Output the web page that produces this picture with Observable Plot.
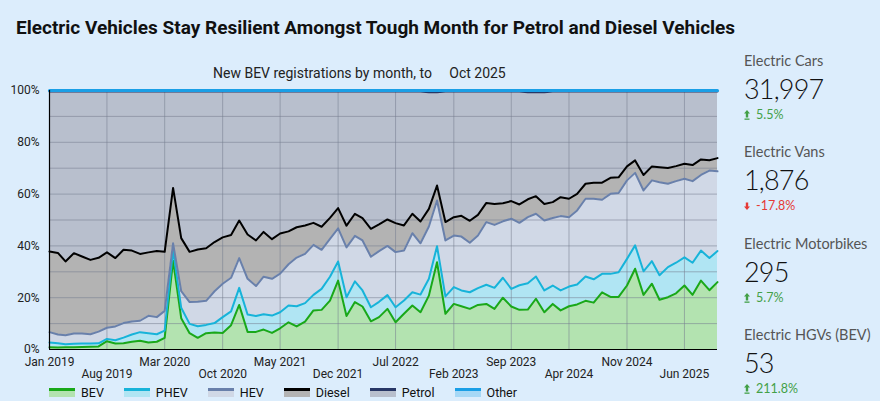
<!DOCTYPE html>
<html><head><meta charset="utf-8">
<script src="https://cdn.jsdelivr.net/npm/d3@7"></script>
<script src="https://cdn.jsdelivr.net/npm/@observablehq/plot@0.6"></script>
<style>
body{margin:0;width:880px;height:401px;background:#dcedfc;font-family:Roboto,sans-serif;position:relative;overflow:hidden}
#title{position:absolute;left:16px;top:16px;font-weight:700;font-size:19px;color:#111;white-space:nowrap}
#sub{position:absolute;left:213px;top:65px;font-size:14px;color:#222;white-space:pre}
#chart{position:absolute;left:0;top:80px}
#legend{position:absolute;left:49px;top:385px;display:flex;align-items:center;font-size:12.5px;color:#111}
.li{display:flex;align-items:center;margin-right:20px}
.sw{width:26px;height:6px;margin-right:6px;box-sizing:content-box}
#panel{position:absolute;left:744px;top:0;width:136px;font-family:Lato,sans-serif}
.blk{position:absolute;left:0;white-space:nowrap}
.lab{font-size:14.5px;color:#555;line-height:16px}
.num{font-size:27px;font-weight:300;color:#111;line-height:28px;margin-top:6px;letter-spacing:-0.8px}
.chg{font-size:12.5px;line-height:14px;margin-top:5px;display:flex;align-items:center}
.chg svg{margin-right:6px}
</style></head>
<body>
<div id="title">Electric Vehicles Stay Resilient Amongst Tough Month for Petrol and Diesel Vehicles</div>
<div id="sub">New BEV registrations by month, to     Oct 2025</div>
<div id="chart"></div>
<div id="legend"></div>
<div id="panel"></div>
<script>
const fuels = ["BEV","PHEV","HEV","Diesel","Petrol","Other"];
const fillColors = ["#b3e3b0","#b0e5f3","#d0d8e6","#b3b3b3","#b8bfcd","#a6d8f6"];
const lineColors = ["#19a819","#17b3d9","#6980ab","#000000","#283766","#1a9fe6"];

// monthly market share (%) from Jan 2019 to Oct 2025
const bev = [0.9,0.8,0.9,0.9,1.0,1.1,1.2,3.2,2.3,2.4,3.0,3.4,2.7,3.0,4.5,34.3,12.1,6.3,4.5,6.3,
6.6,6.4,9.4,17.2,6.8,6.8,7.7,6.4,8.2,10.5,8.9,10.8,15.1,15.3,18.9,26.6,12.9,18.3,16.6,10.9,
12.5,15.7,10.5,13.8,17.0,14.4,20.8,33.7,13.8,17.6,16.7,15.7,17.2,17.6,15.7,20.0,16.6,15.3,15.4,19.6,
14.4,17.6,15.1,16.7,17.4,18.8,18.1,22.1,20.3,20.3,24.7,31.2,21.1,25.4,19.2,20.2,21.7,24.7,21.1,26.6,
22.9,26.0];
const phev = [1.8,1.6,1.1,1.3,1.3,1.2,1.2,0.9,1.3,2.2,2.8,3.3,3.6,2.9,2.8,4.2,4.0,3.6,4.5,3.2,
3.6,6.1,5.3,6.6,6.7,6.1,5.9,6.7,6.2,6.5,7.8,7.1,6.0,8.1,9.2,7.4,7.3,8.0,6.2,5.4,
5.9,5.3,5.8,5.1,5.1,6.8,6.5,6.2,6.7,6.5,6.1,6.4,6.5,7.4,8.1,7.7,6.8,9.5,10.2,8.6,
8.4,7.1,7.7,7.6,7.7,9.4,9.0,7.1,8.9,9.5,10.3,9.0,9.1,8.7,9.5,11.6,11.8,10.9,12.4,11.6,
12.4,12.0];
const hev = [4.0,3.4,3.5,4.0,3.9,3.6,4.5,4.3,5.3,5.6,5.0,4.4,6.7,6.6,7.6,2.5,6.4,8.4,9.4,9.3,
12.3,12.9,13.0,11.5,13.8,11.6,14.5,14.2,14.9,15.9,18.8,19.0,19.3,15.1,14.6,12.8,19.2,17.6,19.3,19.5,
19.6,19.0,21.3,19.3,22.8,19.8,20.2,17.6,21.6,19.9,20.8,19.1,20.3,24.2,24.3,21.8,27.1,24.1,25.5,24.2,
27.0,26.1,28.7,26.8,28.6,30.0,31.1,28.6,30.9,30.6,30.3,28.0,31.2,31.2,35.9,32.2,31.5,30.3,31.5,29.2,
33.8,30.8];
const diesel = [31.1,31.5,28.5,31.0,29.7,28.7,28.5,29.1,26.4,28.3,27.4,25.8,24.5,25.5,22.8,21.4,20.5,19.4,20.2,20.3,
19.0,17.9,16.5,14.5,17.1,17.6,17.3,15.3,15.5,12.7,11.7,11.0,8.5,8.9,8.1,7.8,8.4,8.5,8.6,10.8,
10.3,10.2,11.2,9.7,7.5,8.4,6.8,5.8,7.1,7.1,8.0,8.5,8.0,7.4,8.1,7.0,6.8,7.1,6.9,6.8,
6.4,6.1,7.3,7.1,6.4,5.8,6.2,6.6,6.2,6.1,5.4,4.8,6.0,5.4,5.8,6.1,5.8,5.8,6.2,6.0,
4.0,5.1];
const petrol = [61.8,62.3,65.6,62.4,63.7,65.0,64.2,62.1,64.3,61.1,61.4,62.7,62.1,61.6,61.9,37.2,56.6,61.9,61.0,60.5,
58.1,56.3,55.4,49.8,55.2,57.5,54.2,57.0,54.8,54.0,52.4,51.7,50.7,52.2,48.8,45.0,51.8,47.2,48.9,53.0,
51.3,49.4,50.8,51.7,47.2,50.2,45.0,36.0,50.4,48.5,48.0,49.9,47.6,43.0,43.4,43.1,42.3,43.6,41.3,40.1,
43.1,42.7,40.8,41.4,39.5,35.6,35.2,35.2,33.3,33.1,28.9,26.6,32.2,28.9,29.2,29.5,28.8,27.9,28.4,26.2,
26.5,25.7];
const other = [0.4,0.4,0.4,0.4,0.4,0.4,0.4,0.4,0.4,0.4,0.4,0.4,0.4,0.4,0.4,0.4,0.4,0.4,0.4,0.4,
0.4,0.4,0.4,0.4,0.4,0.4,0.4,0.4,0.4,0.4,0.4,0.4,0.4,0.4,0.4,0.4,0.4,0.4,0.4,0.4,
0.4,0.4,0.4,0.4,0.4,0.4,0.7,0.7,0.4,0.4,0.4,0.4,0.4,0.4,0.4,0.4,0.4,0.4,0.7,0.7,
0.7,0.4,0.4,0.4,0.4,0.4,0.4,0.4,0.4,0.4,0.4,0.4,0.4,0.4,0.4,0.4,0.4,0.4,0.4,0.4,
0.4,0.4];

const tickLabels = ["Jan 2019","Aug 2019","Mar 2020","Oct 2020","May 2021","Dec 2021",
  "Jul 2022","Feb 2023","Sep 2023","Apr 2024","Nov 2024","Jun 2025"];
const yTicks = [0,20,40,60,80,100];
const yGrid = [10,20,30,40,50,60,70,80,90];

const kpiLabels = ["Electric Cars","Electric Vans","Electric Motorbikes","Electric HGVs (BEV)"];
const kpiValues = ["31,997","1,876","295","53"];
const kpiChanges = [5.5,-17.8,5.7,211.8];

const series = {BEV:bev, PHEV:phev, HEV:hev, Diesel:diesel, Petrol:petrol, Other:other};
const months = bev.map((_, i) => new Date(Date.UTC(2019, i, 1)));
const data = fuels.flatMap(f => series[f].map((v, i) => ({date: months[i], fuel: f, share: v})));
const fillMap = Object.fromEntries(fuels.map((f, i) => [f, fillColors[i]]));
const lineMap = Object.fromEntries(fuels.map((f, i) => [f, lineColors[i]]));
const parse = d3.utcParse("%b %Y");
const tickDates = tickLabels.map(parse);
const row1 = tickDates.filter((_, i) => i % 2 === 0);
const row2 = tickDates.filter((_, i) => i % 2 === 1);
const fmt = d3.utcFormat("%b %Y");

const chart = Plot.plot({
  width: 730, height: 304,
  marginTop: 10, marginBottom: 35, marginLeft: 49, marginRight: 13,
  style: {background: "transparent", fontFamily: "Roboto, sans-serif", fontSize: "12px", color: "#222", overflow: "visible"},
  x: {type: "utc", domain: [months[0], months[months.length - 1]], label: null},
  y: {domain: [0, 100], label: null},
  color: {type: "identity"},
  marks: [
    Plot.areaY(data, {x: "date", y: "share", z: "fuel", fill: d => fillMap[d.fuel]}),
    Plot.gridY(yGrid, {stroke: "#767e90", strokeOpacity: 0.55}),
    Plot.gridX(tickDates, {stroke: "#767e90", strokeOpacity: 0.55}),
    Plot.lineY(data, Plot.stackY2({x: "date", y: "share", z: "fuel",
      stroke: d => lineMap[d.fuel], strokeWidth: d => d.fuel === "Other" ? 3 : 2})),
    Plot.ruleX([months[0]], {stroke: "#000", strokeWidth: 1.2}),
    Plot.ruleY([0], {stroke: "#000", strokeWidth: 1.2}),
    Plot.axisY(yTicks, {tickSize: 0, tickPadding: 10, tickFormat: d => d + "%", label: null, fontSize: 12}),
    Plot.axisX(row1, {tickSize: 0, tickPadding: 8, tickFormat: fmt, label: null, fontSize: 12}),
    Plot.axisX(row2, {tickSize: 0, tickPadding: 20, tickFormat: fmt, label: null, fontSize: 12})
  ]
});
document.getElementById("chart").append(chart);

const legend = document.getElementById("legend");
fuels.forEach((f, i) => {
  const it = document.createElement("div");
  it.className = "li";
  it.innerHTML = `<div class="sw" style="border-top:3px solid ${lineColors[i]};background:${fillColors[i]}"></div><span>${f}</span>`;
  legend.append(it);
});

const panel = document.getElementById("panel");
kpiLabels.forEach((lab, k) => {
  const up = kpiChanges[k] >= 0;
  const col = up ? "#43a047" : "#e53935";
  const arrow = up
    ? `<svg width="6" height="10" viewBox="0 0 6 10"><path d="M3 0L6 3.5H4.2V7.5H1.8V3.5H0Z" fill="${col}"/><rect x="0.5" y="8.5" width="5" height="1.3" fill="${col}"/></svg>`
    : `<svg width="6" height="10" viewBox="0 0 6 10"><path d="M3 9L6 5.5H4.2V1.5H1.8V5.5H0Z" fill="${col}"/></svg>`;
  const b = document.createElement("div");
  b.className = "blk";
  b.style.top = (53 + k * 91.3) + "px";
  b.innerHTML = `<div class="lab">${lab}</div><div class="num">${kpiValues[k]}</div>` +
    `<div class="chg" style="color:${col}">${arrow}<span>${kpiChanges[k].toFixed(1)}%</span></div>`;
  panel.append(b);
});
</script>
</body></html>
